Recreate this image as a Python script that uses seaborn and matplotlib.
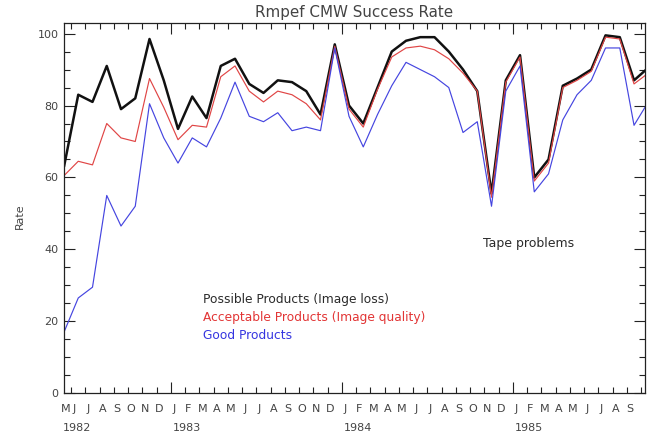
import numpy as np
import pandas as pd
import matplotlib
matplotlib.use("Agg")
import matplotlib.pyplot as plt
import matplotlib.transforms as mtransforms
import seaborn as sns

# Monthly success rates, May 1982 - Oct 1985
months = pd.period_range("1982-05", "1985-10", freq="M")
month_letters = [m.strftime("%b")[0] for m in months]

possible = [63, 83, 81, 91, 79, 82, 98.5, 87, 73.5, 82.5,
            76.5, 91, 93, 86, 83.5, 87, 86.5, 84, 77.5, 97,
            80, 75, 85, 95, 98, 99, 99, 95, 90, 84,
            55.5, 87, 94, 60, 65, 85.5, 87.5, 90, 99.5, 99,
            87, 90.5]
acceptable = [60.5, 64.5, 63.5, 75, 71, 70, 87.5, 79.5, 70.5, 74.5,
              74, 88, 91, 84, 81, 84, 83, 80.5, 76, 96.5,
              79, 74, 84.5, 93.5, 96, 96.5, 95.5, 93, 89, 84,
              54.5, 86.5, 93.5, 59, 64, 85, 87, 89.5, 99, 98.5,
              86, 89]
good = [17, 26.5, 29.5, 55, 46.5, 52, 80.5, 71, 64, 71,
        68.5, 76.5, 86.5, 77, 75.5, 78, 73, 74, 73, 96,
        77, 68.5, 77.5, 85.5, 92, 90, 88, 85, 72.5, 75.5,
        52, 84, 91, 56, 61, 76, 83, 87, 96, 96,
        74.5, 81]

series_names = ["Possible Products (Image loss)",
                "Acceptable Products (Image quality)",
                "Good Products"]
series_colors = ["#111111", "#e04545", "#4545e0"]
text_colors = ["#2a2a2a", "#e23535", "#3535e0"]
series_widths = [1.8, 0.85, 0.85]

sns.set_theme(style="white")
plt.rcParams["font.family"] = ["DejaVu Sans"]

idx = np.arange(len(months))
wide = pd.DataFrame({"month": idx,
                     series_names[0]: possible,
                     series_names[1]: acceptable,
                     series_names[2]: good})
df = wide.melt(id_vars="month", var_name="series", value_name="rate")

fig = plt.figure(figsize=(6.49, 4.34), dpi=100)
W, H = 649, 434
x0, x1, y0, y1 = 64, 645, 393.3, 23.5
ax = fig.add_axes([x0 / W, (H - y0) / H, (x1 - x0) / W, (y0 - y1) / H])

sns.lineplot(data=df, x="month", y="rate", hue="series", hue_order=series_names,
             palette=dict(zip(series_names, series_colors)),
             size="series", size_order=series_names,
             sizes=dict(zip(series_names, series_widths)),
             errorbar=None, legend=False, ax=ax)

xmax = 40.77
ax.set_xlim(0, xmax)
ax.set_ylim(0, 102.8)

# x ticks: month boundaries (minor), year boundaries (major)
jan_idx = [i for i, m in enumerate(months) if m.month == 1]
ax.set_xticks([i - 0.5 for i in jan_idx])
ax.set_xticks([i + 0.5 for i in idx if i + 0.5 < xmax], minor=True)
ax.tick_params(axis="x", which="major", direction="in", length=8, width=0.8,
               top=True, bottom=True, labelbottom=False, color="#222222")
ax.tick_params(axis="x", which="minor", direction="in", length=4, width=0.8,
               top=True, bottom=True, labelbottom=False, color="#222222")

ax.set_yticks(np.arange(0, 101, 20))
ax.set_yticks(np.arange(0, 101, 5), minor=True)
ax.tick_params(axis="y", which="major", direction="in", length=8, width=0.8,
               left=True, right=True, labelsize=8, pad=4, labelcolor="#444444",
               color="#222222")
ax.tick_params(axis="y", which="minor", direction="in", length=4, width=0.8,
               left=True, right=True, color="#222222")

for s in ax.spines.values():
    s.set_color("#222222")
    s.set_linewidth(0.9)

trans = mtransforms.blended_transform_factory(ax.transData, ax.transAxes)
for i, letter in zip(idx, month_letters):
    xpos = max(i - 0.3, 0.15)
    if xpos > xmax - 0.4:
        continue
    ax.text(xpos, -0.0425, letter, transform=trans, ha="center", va="center",
            fontsize=8, color="#444444")

year_starts = [0] + jan_idx
for i in year_starts:
    xpos = -0.05 if i == 0 else i - 0.38
    ax.text(xpos, -0.094, str(months[i].year), transform=trans, ha="left",
            va="center", fontsize=8, color="#444444")

ax.set_title("Rmpef CMW Success Rate", fontsize=10.9, pad=5, color="#444444")
ax.set_xlabel("")
ax.set_ylabel("Rate", fontsize=8, color="#444444")
ax.yaxis.set_label_coords(-0.067, 0.48)

for name, col, yfrac in zip(series_names, text_colors, [0.255, 0.206, 0.155]):
    ax.text(0.239, yfrac, name, transform=ax.transAxes, ha="left", va="center",
            fontsize=8.8, color=col)

ax.text(0.721, 0.406, "Tape problems", transform=ax.transAxes, ha="left",
        va="center", fontsize=9, color="#2a2a2a")

fig.savefig("out.png", dpi=100)
